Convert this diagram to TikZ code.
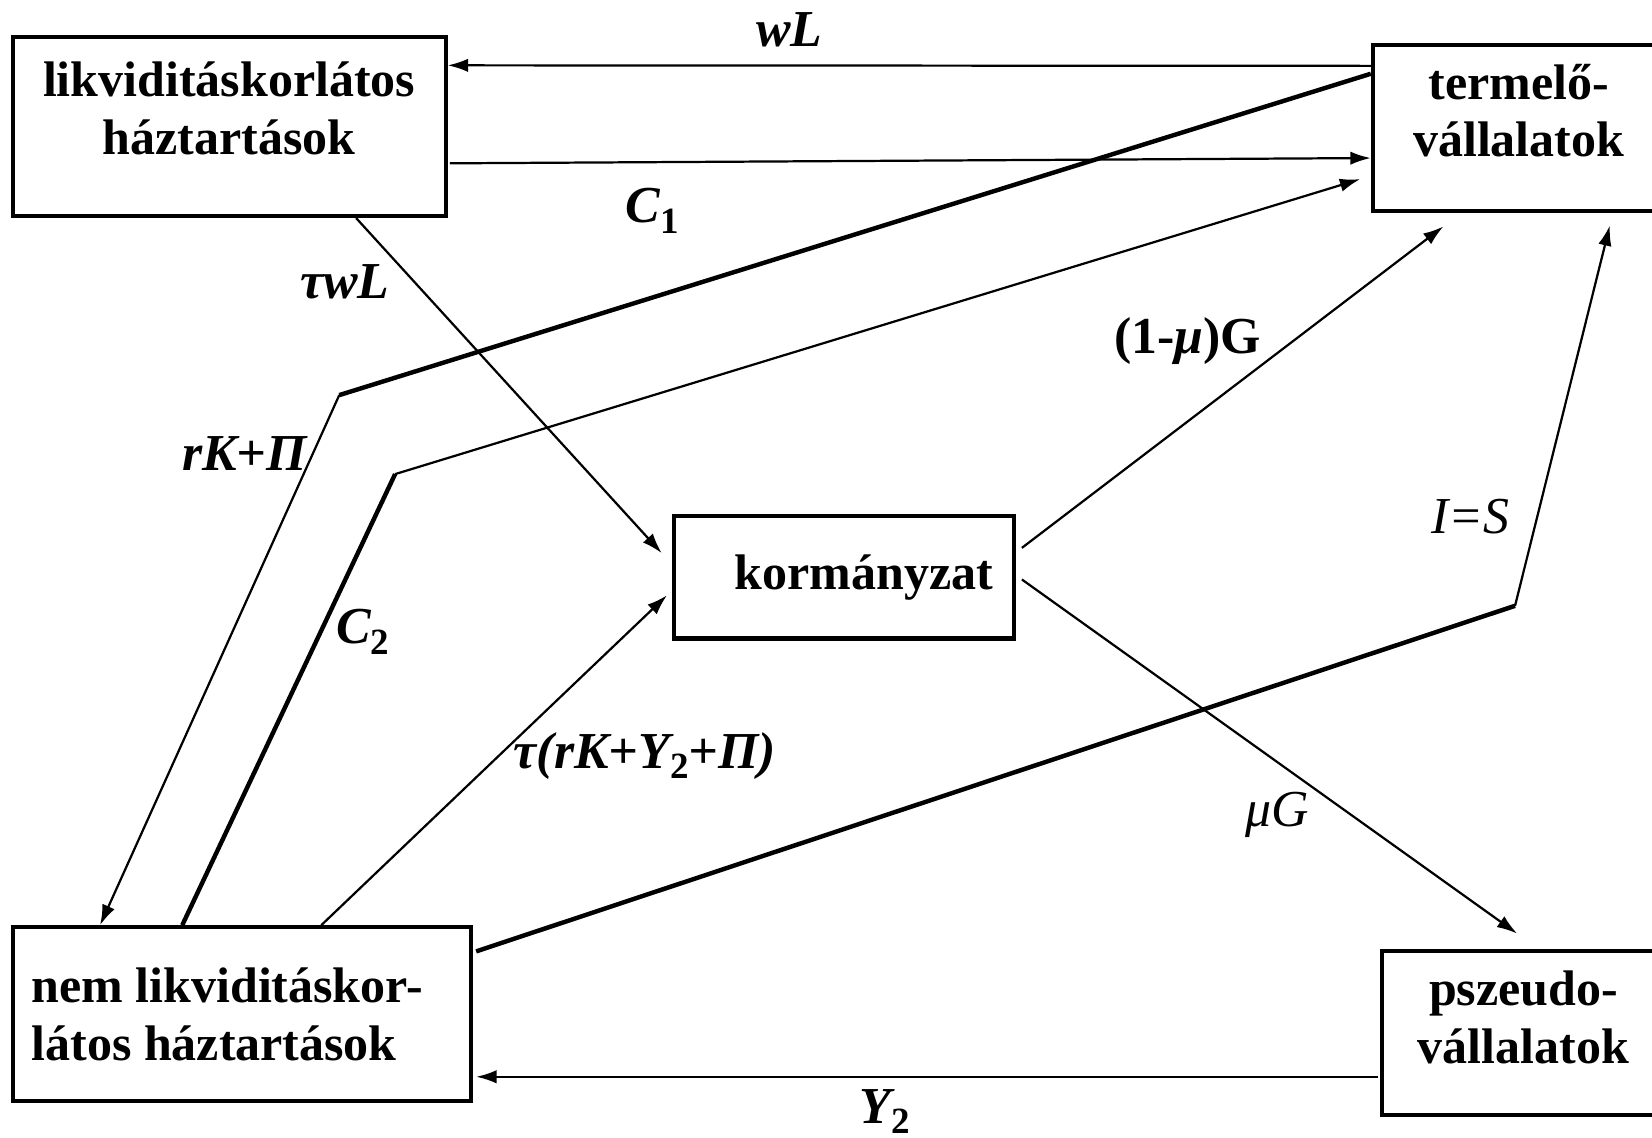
\documentclass[tikz,border=0pt]{standalone}
\usepackage{fontspec}
\setmainfont{Liberation Serif}
\usetikzlibrary{arrows.meta}
\newcommand{\lowr}[1]{\raisebox{-0.45ex}{\upshape\fontsize{10}{12}\selectfont #1}}

\begin{document}
\begin{tikzpicture}[x=0.1mm, y=-0.1mm, >={Latex[length=5.5pt,width=3.6pt]},
    font=\fontsize{13.5}{15.6}\selectfont\bfseries,
    kasten/.style={draw, line width=1.1pt, inner sep=0pt},
    fluss/.style={->, line width=0.6pt},
    dick/.style={line width=1.2pt},
    lbl/.style={font=\fontsize{14}{16}\selectfont\bfseries\itshape, inner sep=0pt}]
    \useasboundingbox (0,0) rectangle (1568,1080);
    % Kaesten zeichnen
    \node[kasten, minimum width=41.1mm, minimum height=17mm, align=center, text depth=10pt] (lik) at (217.5,120) {likviditáskorlátos\\háztartások};
    \node[kasten, minimum width=27.7mm, minimum height=15.7mm, align=center, text depth=9.5pt] (ter) at (1441.5,121.5) {termelő-\\vállalatok};
    \node[kasten, minimum width=32.2mm, minimum height=11.6mm] (kor) at (801,548) {\hspace*{3.8mm}kormányzat};
    \node[kasten, minimum width=43.5mm, minimum height=16.5mm, text width=39.9mm, align=flush left] (nem) at (229.5,962.5) {nem likviditáskor-\\látos háztartások};
    \node[kasten, minimum width=26.8mm, minimum height=15.5mm, align=center, text depth=8.5pt] (pse) at (1446,980.5) {pszeudo-\\vállalatok};
    % Knickpunkte
    \coordinate (k1) at (322,375);
    \coordinate (k2) at (375,450);
    \coordinate (k3) at (1438,575);
    % Pfeile zeichnen
    \draw[fluss] ([shift={(0,-59)}]ter.west) -- ([shift={(0,-58)}]lik.east) node[lbl, pos=0.63, yshift=3.4mm] {wL};
    \draw[fluss] ([shift={(2,35)}]lik.east) -- ([shift={(0,28.5)}]ter.west) node[lbl, pos=0.22, yshift=-4.6mm] {C\lowr{1}};
    \draw[dick] ([shift={(0,-51.5)}]ter.west) -- (k1);
    \draw[fluss] (k1) -- ([shift={(-134.5,0)}]nem.north) node[lbl, pos=0.11, xshift=-6.5mm] {rK+Π};
    \draw[dick] ([shift={(-56.5,0)}]nem.north) -- (k2) node[lbl, pos=0.65, xshift=4mm] {C\lowr{2}};
    \draw[fluss] (k2) -- ([shift={(-10,48.5)}]ter.west);
    \draw[fluss] ([shift={(120.5,0)}]lik.south) -- ([shift={(-10,-23)}]kor.west) node[lbl, pos=0.19, xshift=-6.6mm] {τwL};
    \draw[fluss] ([shift={(75.5,0)}]nem.north) -- ([shift={(-5,17)}]kor.west) node[lbl, pos=0.514, anchor=west, xshift=1.3mm] {τ(rK+Y\lowr{2}+Π)};
    \draw[fluss] ([shift={(6,-28)}]kor.east) -- ([shift={(-71.5,13)}]ter.south) node[lbl, pos=0.645, anchor=east, xshift=-3mm] {\upshape(1-\textit{μ})G};
    \draw[fluss] ([shift={(6,2)}]kor.east) -- ([shift={(-6,-15)}]pse.north) node[lbl, pos=0.666, anchor=east, xshift=-4mm] {\mdseries μG};
    \draw[dick] ([shift={(3,-59.5)}]nem.east) -- (k3);
    \draw[fluss] (k3) -- ([shift={(86.5,12)}]ter.south) node[lbl, pos=0.234, anchor=east, xshift=-2.5mm] {\mdseries I=S};
    \draw[fluss] ([shift={(-2,41.5)}]pse.west) -- ([shift={(3,59.5)}]nem.east) node[lbl, pos=0.547, yshift=-3.3mm] {Y\lowr{2}};
\end{tikzpicture}
\end{document}
